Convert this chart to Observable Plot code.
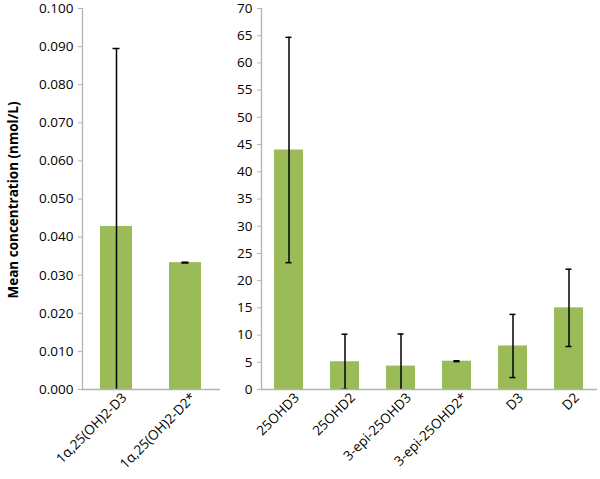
<!DOCTYPE html>
<html>
<head>
<meta charset="utf-8">
<script src="https://cdn.jsdelivr.net/npm/d3@7"></script>
<script src="https://cdn.jsdelivr.net/npm/@observablehq/plot@0.6"></script>
<style>
  html, body { margin: 0; padding: 0; background: #fff; }
  #wrap { position: relative; width: 600px; height: 479px; font-family: "Open Sans", sans-serif; }
  #left, #right { position: absolute; top: 0; }
  #left { left: 0; }
  #right { left: 230px; }
  #ylabel { position: absolute; left: 13px; top: 200px; transform: translate(-50%, -50%) rotate(-90deg);
    white-space: nowrap; font-weight: bold; font-size: 13.5px; color: #000; }
</style>
</head>
<body>
<div id="wrap">
  <div id="left"></div>
  <div id="right"></div>
  <div id="ylabel">Mean concentration (nmol/L)</div>
</div>
<script>
const leftCats = ["1α,25(OH)2-D3", "1α,25(OH)2-D2*"];
const leftMeans = [0.0428, 0.0333];
const leftErrs = [0.0467, 0.0001];
const leftTicks = [0, 0.01, 0.02, 0.03, 0.04, 0.05, 0.06, 0.07, 0.08, 0.09, 0.1];

const rightCats = ["25OHD3", "25OHD2", "3-epi-25OHD3", "3-epi-25OHD2*", "D3", "D2"];
const rightMeans = [44.0, 5.1, 4.3, 5.2, 8.0, 15.0];
const rightErrs = [20.7, 5.05, 5.9, 0.08, 5.8, 7.1];
const rightTicks = [0, 5, 10, 15, 20, 25, 30, 35, 40, 45, 50, 55, 60, 65, 70];

const green = "#9bbb59";
const grey = "#b3b3b3";

function build(cats, means, errs) {
  return cats.map((c, i) => ({
    cat: c, mean: means[i], hi: means[i] + errs[i],
    lo: Math.max(0, means[i] - errs[i]), loClipped: means[i] - errs[i] < 0
  }));
}

function panel({cats, means, errs, ticks, domain, fmt, width, marginLeft, marginRight, pi, capInset}) {
  const data = build(cats, means, errs);
  return Plot.plot({
    width, height: 479,
    marginLeft, marginRight, marginTop: 8, marginBottom: 90,
    style: {fontFamily: "Open Sans, sans-serif", fontSize: "13px", color: "#000", background: "#fff"},
    x: {domain: cats, paddingInner: pi, paddingOuter: pi / 2, axis: null},
    y: {domain, axis: null},
    marks: [
      Plot.barY(data, {x: "cat", y: "mean", fill: green}),
      Plot.ruleX(data, {x: "cat", y1: "lo", y2: "hi", stroke: "#000", strokeWidth: 1.5}),
      Plot.tickY(data, {x: "cat", y: "hi", stroke: "#000", strokeWidth: 1.5, insetLeft: capInset, insetRight: capInset}),
      Plot.tickY(data.filter(d => !d.loClipped), {x: "cat", y: "lo", stroke: "#000", strokeWidth: 1.5, insetLeft: capInset, insetRight: capInset}),
      Plot.ruleY([domain[0]], {stroke: grey, strokeWidth: 1.3}),
      Plot.frame({anchor: "left", stroke: grey, strokeWidth: 1.3}),
      Plot.axisY({ticks, tickFormat: fmt, tickSize: 4, tickPadding: 5, stroke: grey, label: null, fontSize: 13.5}),
      Plot.axisX({tickSize: 0, tickRotate: -45, tickPadding: 6, dx: 8, label: null, fontSize: 13.5})
    ]
  });
}

document.getElementById("left").append(panel({
  cats: leftCats, means: leftMeans, errs: leftErrs, ticks: leftTicks, domain: [0, 0.1],
  fmt: d3.format(".3f"), width: 230, marginLeft: 82, marginRight: 10, pi: 0.536, capInset: 12.5
}));
document.getElementById("right").append(panel({
  cats: rightCats, means: rightMeans, errs: rightErrs, ticks: rightTicks, domain: [0, 70],
  fmt: d3.format("d"), width: 370, marginLeft: 31, marginRight: 3, pi: 0.482, capInset: 11.5
}));
</script>
</body>
</html>
